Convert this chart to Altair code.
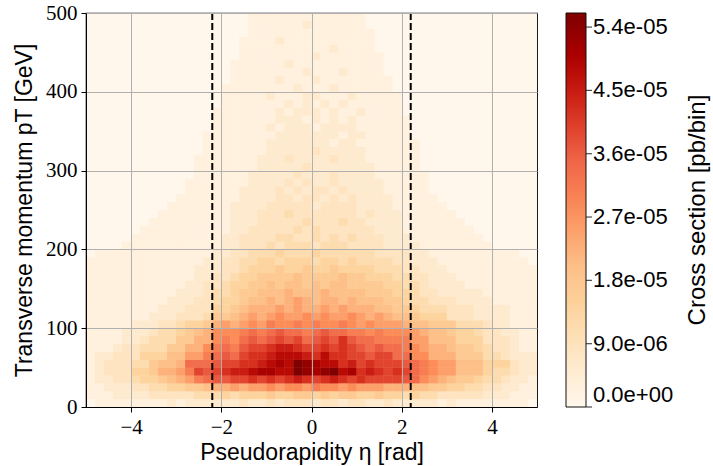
import altair as alt
import pandas as pd

# ---------------- data ----------------
# bins: 50 eta bins of width 0.2 in [-5, 5], 50 pT bins of width 10 GeV in [0, 500]
ETA_EDGES = [round(-5 + 0.2 * i, 1) for i in range(51)]
PT_EDGES = [10 * j for j in range(51)]

# colour level per cell (0..20, base-36 digits: a=10 ... k=20); one string per pT row,
# row 0 = 0-10 GeV, characters left->right = eta -5 -> 5
LEVEL_UNIT = 2.8e-6  # pb/bin per level step
Z = "0000000000"
ROWS = [
    "0111111112" "1222222322" "3233323323" "3223222221" "2111111110",
    "1112222333" "3344454555" "6556656566" "5565545443" "3333222111",
    "1122233445" "5667889899" "a9aa9baa9a" "9998887766" "5544332211",
    "1223345567" "89bcddeefe" "fefgfefgfe" "feeeedca98" "7665443221",
    "1233355688" "9bedefgghi" "ihhkjijkhi" "fgfefecba9" "9777544322",
    "1233344677" "8cccdeeffg" "hihkjihhfg" "efeeedcba9" "9777555322",
    "1223335557" "799bcdceff" "ghhhgfhffe" "edeeccaa88" "8666443222",
    "1112334446" "688abcbdee" "fggfeefefe" "dcdccba988" "7665433211",
    "1111223444" "6688abacdc" "dedecdedfd" "ccbbbb9977" "7555333211",
    "1111222344" "5678aaabcb" "cdccbcdccb" "babaaa9877" "6554332211",
    "1111122233" "45568989a9" "baababaaba" "9a99987766" "6444322111",
    "1111111222" "3334667898" "9a99a9a99a" "9898776555" "3332222111",
    "1111111122" "2333556788" "8989889898" "8877665444" "3332222111",
    "1111111112" "2233455677" "8789878878" "7776654433" "3222211111",
    "1111111111" "2223445667" "7787778777" "7666554332" "2222111111",
    "1111111111" "1223345566" "7677676776" "6665544322" "2211111111",
    "1111111111" "1122334556" "6667666676" "6555443322" "2111111111",
    "1111111111" "1122233455" "5655655655" "5544433222" "1111111111",
    "1111111111" "1112233445" "5455545545" "4444332221" "1111111110",
    "0111111111" "1111223344" "4544454444" "4433332211" "1111111100",
    "0000111111" "1111122333" "4344434443" "3332222111" "1111100000",
    "0000011111" "1111122333" "3443343434" "3332221111" "1111000000",
    "0000001111" "1111112233" "3334343333" "3322211111" "1110000000",
    "0000000111" "1111112223" "3333433343" "3222211111" "1100000000",
    "0000000011" "1111112223" "3343333333" "2322211111" "1000000000",
    "0000000001" "1111112222" "3333323333" "2222111111" "0000000000",
    "0000000000" "1111111222" "2332332323" "2222111110" "0000000000",
    Z + "0111111222" "2323233232" "2221111100" + Z,
    Z + "0111111122" "2232322322" "2221111100" + Z,
    Z + "0011111122" "2223222322" "2211111100" + Z,
    Z + "0011111112" "2222322222" "2211111000" + Z,
    Z + "0011111112" "2232222322" "2111111000" + Z,
    Z + "0001111111" "2222232222" "2111111000" + Z,
    Z + "0001111111" "2222222122" "1111111000" + Z,
    Z + "0001111111" "1222222212" "2111110000" + Z,
    Z + "0000111111" "2122212222" "1111110000" + Z,
    Z + "0000111111" "1222121212" "1111110000" + Z,
    Z + "0000111111" "1212221211" "2111100000" + Z,
    Z + "0000011111" "1121212121" "1111100000" + Z,
    Z + "0000011111" "2111221112" "1111100000" + Z,
    Z + "0000011111" "1112111211" "1111000000" + Z,
    Z + "0000001111" "1211121111" "1111000000" + Z,
    Z + "0000001111" "1111211121" "1110000000" + Z,
    Z + "0000001111" "1121111111" "1110000000" + Z,
    Z + "0000000111" "1111121111" "1110000000" + Z,
    Z + "0000000111" "1111111211" "1100000000" + Z,
    Z + "0000000111" "1211111111" "1100000000" + Z,
    Z + "0000000011" "1111111111" "1100000000" + Z,
    Z + "0000000011" "1111211111" "1000000000" + Z,
    Z + "0000000011" "1111111111" "1000000000" + Z,
]

VMAX = 5.6e-5
# matplotlib "OrRd" colormap stops
ORRD = ["#fff7ec", "#fee8c8", "#fdd49e", "#fdbb84", "#fc8d59",
        "#ef6548", "#d7301f", "#b30000", "#7f0000"]
DASHED_ETA = [-2.2, 2.2]
X_TICKS = [-4, -2, 0, 2, 4]
Y_TICKS = [0, 100, 200, 300, 400, 500]
CBAR_TICKS = [0.0, 9.0e-6, 1.8e-5, 2.7e-5, 3.6e-5, 4.5e-5, 5.4e-5]
CBAR_LABELS = ["0.0e+00", "9.0e-06", "1.8e-05", "2.7e-05", "3.6e-05", "4.5e-05", "5.4e-05"]

X_TITLE = "Pseudorapidity η [rad]"
Y_TITLE = "Transverse momentum pT [GeV]"
C_TITLE = "Cross section [pb/bin]"

# ---------------- table ----------------
records = []
for j, row in enumerate(ROWS):
    row = row[:50].ljust(50, "0")
    for i, ch in enumerate(row):
        records.append({
            "eta_lo": ETA_EDGES[i], "eta_hi": ETA_EDGES[i + 1],
            "pt_lo": PT_EDGES[j], "pt_hi": PT_EDGES[j + 1],
            "xsec": int(ch, 36) * LEVEL_UNIT,
        })
cells = pd.DataFrame(records)
cuts = pd.DataFrame({"eta": DASHED_ETA})
ctitle = pd.DataFrame({"t": [C_TITLE]})
cticks = pd.DataFrame({"v": CBAR_TICKS})

SERIF = "Liberation Serif"
SANS = "Liberation Sans"

x_scale = alt.Scale(domain=[-5, 5], nice=False, zero=False)
y_scale = alt.Scale(domain=[0, 500], nice=False, zero=False)
stops = [VMAX * k / (len(ORRD) - 1) for k in range(len(ORRD))]
c_scale = alt.Scale(domain=stops, range=ORRD, interpolate="rgb", nice=False, zero=False)

x_axis = alt.Axis(values=X_TICKS, title=X_TITLE, grid=True, zindex=1,
                  titleBaseline="alphabetic", titleY=52, titleX=225.5)
y_axis = alt.Axis(values=Y_TICKS, title=Y_TITLE, grid=True, zindex=1,
                  titleBaseline="alphabetic", titleX=-55, titleY=197, titleAngle=270)

label_expr = "[" + ",".join("'%s'" % s for s in CBAR_LABELS) + "][round(datum.value / %g)]" % CBAR_TICKS[1]

color_enc = alt.Color("xsec:Q", scale=c_scale, legend=alt.Legend(
    type="gradient", title=None, orient="none", legendX=480, legendY=0,
    direction="vertical", gradientLength=394, gradientThickness=20,
    gradientStrokeColor="#111111", gradientStrokeWidth=1,
    values=CBAR_TICKS, labelExpr=label_expr,
    labelFont=SANS, labelFontSize=22, labelColor="black", labelOffset=7,
    labelBaseline="middle", labelOverlap=False, padding=0))

def heat_layer():
    return alt.Chart(cells).mark_rect().encode(
        x=alt.X("eta_lo:Q", scale=x_scale, axis=x_axis),
        x2="eta_hi",
        y=alt.Y("pt_lo:Q", scale=y_scale, axis=y_axis),
        y2="pt_hi",
        color=color_enc,
    )

# the same cells drawn twice so anti-aliased seams between neighbours disappear
heat = heat_layer()
heat_again = heat_layer()

rules = alt.Chart(cuts).mark_rule(color="black", strokeWidth=2, strokeDash=[7, 3]).encode(
    x=alt.X("eta:Q", scale=x_scale, title=X_TITLE),
)

cbar_ticks = alt.Chart(cticks).mark_tick(
    color="black", thickness=1.2, size=6, orient="horizontal",
).encode(
    y=alt.Y("v:Q", scale=alt.Scale(domain=[0, VMAX], nice=False, zero=False), axis=None),
    x=alt.value(503),
)

cbar_title = alt.Chart(ctitle).mark_text(
    angle=270, align="center", baseline="top", font=SANS, fontSize=24, color="black",
).encode(x=alt.value(600), y=alt.value(197), text="t:N")

base = alt.layer(heat, heat_again, rules)
chart = alt.layer(base, cbar_title, cbar_ticks).resolve_scale(
    y="independent",
).properties(
    width=451, height=394, background="white",
    padding={"left": 86, "top": 13, "right": 176, "bottom": 59},
    autosize=alt.AutoSizeParams(type="none"),
).configure_view(
    stroke="black", strokeWidth=1.2, fill="#fff7ec",
).configure_axis(
    domainColor="black", domainWidth=1, tickColor="black", tickSize=5, tickWidth=1,
    gridColor="#b0b0b0", gridWidth=1, gridOpacity=1,
    labelFont=SERIF, labelFontSize=21, labelColor="black", labelPadding=4,
    titleFont=SANS, titleFontSize=23, titleFontWeight="normal", titleColor="black",
)

chart.save("out.html", embed_options={"renderer": "svg", "actions": False})
